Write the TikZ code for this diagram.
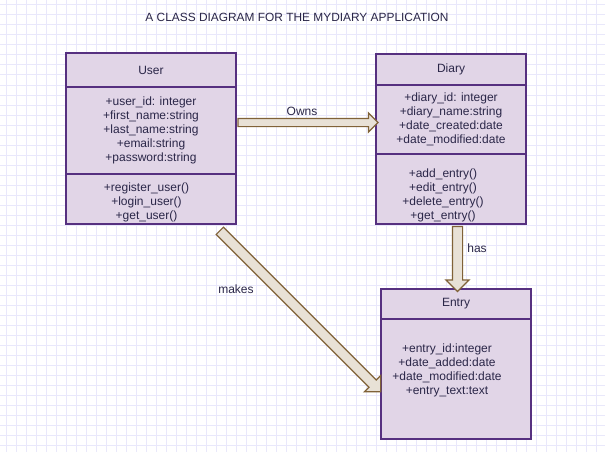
\documentclass[tikz,border=0pt]{standalone}
\usepackage{fontspec}
\setmainfont{Liberation Sans}
\usetikzlibrary{positioning,calc,shapes.arrows}
\definecolor{umlFill}{RGB}{225,213,231}
\definecolor{umlLine}{RGB}{86,48,128}
\definecolor{umlText}{RGB}{42,38,72}
\definecolor{flexFill}{RGB}{232,225,214}
\definecolor{flexLine}{RGB}{128,98,56}
\definecolor{gridLine}{RGB}{233,232,251}

\begin{document}
\begin{tikzpicture}[x=1pt,y=-1pt,
  umlpart/.style={draw=umlLine,line width=2pt,fill=umlFill,outer sep=0pt,inner sep=2pt,align=center,text=umlText,font=\fontsize{12pt}{14pt}\selectfont},
  membertext/.style={inner sep=0pt,align=center,text=umlText,font=\fontsize{12pt}{14pt}\selectfont},
  linklabel/.style={inner sep=0pt,text=umlText,font=\fontsize{12pt}{14pt}\selectfont},
  titlelabel/.style={inner sep=0pt,text=umlText,font=\fontsize{11.9pt}{14pt}\selectfont},
  flexarrow/.style={single arrow,draw=flexLine,fill=flexFill,line width=1.2pt,inner xsep=0pt,inner ysep=3.5pt,single arrow head extend=5.5pt},
  widearrow/.style={flexarrow,inner ysep=4.5pt,single arrow head extend=6.5pt},
  gridline/.style={draw=gridLine,line width=1pt}]
\useasboundingbox (0,0) rectangle (605,452);
\fill[white] (0,0) rectangle (605,452);
\foreach \gx in {6.5,16.5,...,605} \draw[gridline] (\gx,0) -- (\gx,452);
\foreach \gy in {5,15,...,452} \draw[gridline] (0,\gy) -- (605,\gy);

\node[titlelabel] (title) at (297,17.5) {A CLASS DIAGRAM FOR THE MYDIARY APPLICATION};

% User class
\node[umlpart,minimum width=170pt,minimum height=34pt,anchor=north west] (userhead) at (66,53) {User};
\node[umlpart,minimum width=170pt,minimum height=87pt,below=0pt of userhead] (userattr) {+user\_id: integer\\+first\_name:string\\+last\_name:string\\+email:string\\+password:string};
\node[umlpart,minimum width=170pt,minimum height=50pt,below=0pt of userattr] (usermeth) {};
\node[membertext,below=9pt of userattr,xshift=-4.5pt] (usermethtext) {+register\_user()\\+login\_user()\\+get\_user()};

% Diary class
\node[umlpart,minimum width=150pt,minimum height=31pt,anchor=north west] (diaryhead) at (376,54) {Diary};
\node[umlpart,minimum width=150pt,minimum height=69pt,below=0pt of diaryhead] (diaryattr) {+diary\_id: integer\\+diary\_name:string\\+date\_created:date\\+date\_modified:date};
\node[umlpart,minimum width=150pt,minimum height=70pt,below=0pt of diaryattr] (diarymeth) {};
\node[membertext,below=15pt of diaryattr,xshift=-8pt] (diarymethtext) {+add\_entry()\\+edit\_entry()\\+delete\_entry()\\+get\_entry()};

% Entry class
\node[umlpart,minimum width=150pt,minimum height=30pt,anchor=north west] (entryhead) at (381,289) {Entry};
\node[umlpart,minimum width=150pt,minimum height=120pt,below=0pt of entryhead] (entrybody) {};
\node[membertext,below=25pt of entryhead,xshift=-9pt] (entryattr) {+entry\_id:integer\\+date\_added:date\\+date\_modified:date\\+entry\_text:text};

% connectors
\coordinate (ownsA) at ([yshift=8pt]userattr.east);
\coordinate (ownsB) at (ownsA -| diaryattr.west);
\coordinate (hasB) at ([xshift=1.5pt]entryhead.north);
\coordinate (hasA) at (hasB |- diarymeth.south);
\coordinate (makesA) at ([xshift=67pt,yshift=-5pt]usermeth.south);
\coordinate (makesB) at ([xshift=-2pt,yshift=49pt]entrybody.south west);

\path let \p1=($(ownsB)-(ownsA)$), \n1={atan2(\y1,\x1)}, \n2={veclen(\x1,\y1)} in
  node[flexarrow,rotate=\n1,minimum height=\n2] (ownsarrow) at ($(ownsA)!0.5!(ownsB)$) {};
\path let \p1=($(hasB)-(hasA)$), \n1={atan2(\y1,\x1)}, \n2={veclen(\x1,\y1)} in
  node[widearrow,rotate=\n1,minimum height=\n2] (hasarrow) at ($(hasA)!0.5!(hasB)$) {};
\path let \p1=($(makesB)-(makesA)$), \n1={atan2(\y1,\x1)}, \n2={veclen(\x1,\y1)} in
  node[widearrow,rotate=\n1,minimum height=\n2] (makesarrow) at ($(makesA)!0.5!(makesB)$) {};

\node[linklabel] (ownslabel) at (302,111) {Owns};
\node[linklabel] (haslabel) at (477,248) {has};
\node[linklabel] (makeslabel) at (236,289) {makes};
\end{tikzpicture}
\end{document}
